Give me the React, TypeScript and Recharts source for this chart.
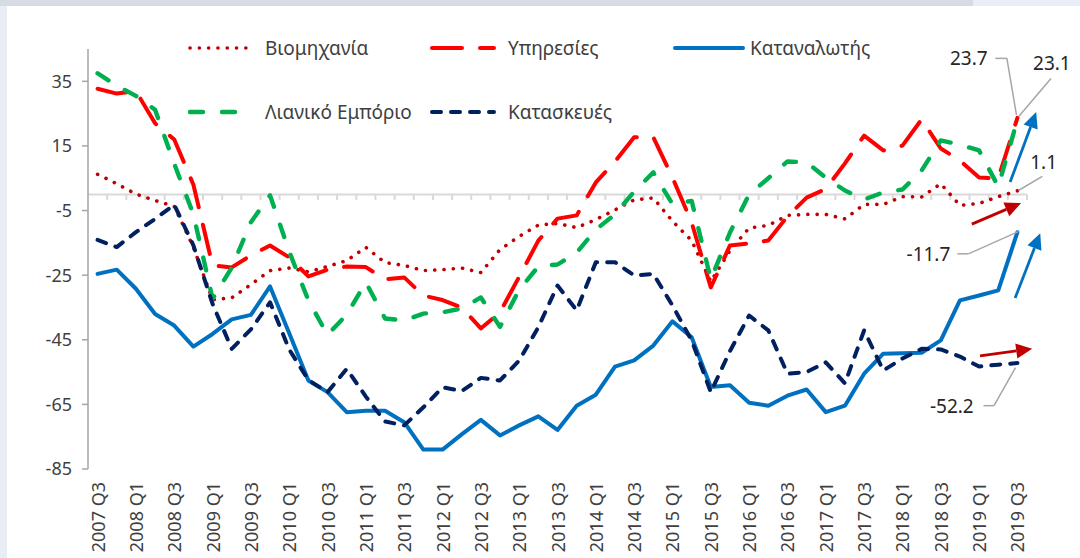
import { Legend, Line, LineChart, ReferenceDot, ReferenceLine, XAxis, YAxis } from 'recharts';

const quarters = [
  '2007 Q3', '2007 Q4', '2008 Q1', '2008 Q2', '2008 Q3', '2008 Q4', '2009 Q1', '2009 Q2', '2009 Q3', '2009 Q4',
  '2010 Q1', '2010 Q2', '2010 Q3', '2010 Q4', '2011 Q1', '2011 Q2', '2011 Q3', '2011 Q4', '2012 Q1', '2012 Q2',
  '2012 Q3', '2012 Q4', '2013 Q1', '2013 Q2', '2013 Q3', '2013 Q4', '2014 Q1', '2014 Q2', '2014 Q3', '2014 Q4',
  '2015 Q1', '2015 Q2', '2015 Q3', '2015 Q4', '2016 Q1', '2016 Q2', '2016 Q3', '2016 Q4', '2017 Q1', '2017 Q2',
  '2017 Q3', '2017 Q4', '2018 Q1', '2018 Q2', '2018 Q3', '2018 Q4', '2019 Q1', '2019 Q2', '2019 Q3',
];

const industry = [
  6.2, 3.3, 0.1, -1.9, -3.7, -16.3, -32.6, -32, -27.9, -23.6,
  -22.8, -24, -22.3, -20.5, -16.4, -21.1, -22, -23.6, -23.3, -22.8,
  -24.2, -17.1, -13, -9.5, -9, -10.3, -7.8, -4.8, -1.7, -1.1,
  -8.3, -14.3, -27, -17.4, -10.4, -9.6, -6.5, -6.2, -6.2, -7.6,
  -3.1, -3.1, -0.7, -0.8, 3.3, -3.4, -2.8, -0.7, 1.1,
];

const services = [
  32.7, 31.2, 32, 22, 17, 3, -22, -22.6, -18.9, -15.8,
  -19.5, -25.4, -23.3, -22.3, -22.5, -26.3, -25.7, -31.3, -32.7, -35,
  -41.5, -36.5, -25.5, -14.3, -7.5, -6.5, 3.7, 10.2, 17.7, 17.7,
  5.2, -8.7, -28.8, -15.8, -15.2, -14.3, -6.8, -1, 1.7, 9.6,
  18.2, 13.6, 15.1, 23.2, 14.2, 10.5, 5.2, 5, 23.7,
];

const consumers = [
  -24.6, -23.3, -29.2, -37, -40.6, -47.1, -43.2, -38.7, -37.3, -28.5,
  -43, -57.6, -61.2, -67.4, -67, -67, -70.5, -79, -79, -74.3,
  -69.8, -74.6, -71.5, -68.7, -72.9, -65.4, -62, -53.3, -51.4, -46.8,
  -39.3, -44.2, -59.6, -59.1, -64.5, -65.4, -62.3, -60.4, -67.4, -65.4,
  -55.5, -49.3, -49.2, -49, -45.2, -32.8, -31.3, -29.7, -11.7,
];

const retail = [
  37.5, 33.6, 30.5, 26.2, 9.5, -6.2, -32.3, -22.7, -8.6, -0.3,
  -17.7, -32.8, -43.5, -37.2, -27.2, -38.4, -39, -36.9, -36.5, -35.3,
  -31.9, -41, -29.5, -22.3, -21.7, -18, -10.9, -6.2, 0.9, 6.8,
  -3, -2, -26.3, -11.8, 0, 5, 10.2, 9.9, 5.2, 1.2,
  -1.6, 0.6, 1.5, 7.4, 16.7, 15.4, 13.6, 2.4, 23.1,
];

const construction = [
  -14.1, -16.3, -11.7, -7.6, -3.2, -15.8, -33.9, -47.8, -41.8, -33.4,
  -48, -57.5, -61.2, -54, -62.6, -70.3, -71.5, -65.9, -59.7, -60.9,
  -56.8, -57.6, -51.4, -41.1, -28.2, -35.9, -21, -21, -25.1, -24.6,
  -34.4, -45.2, -61.2, -48.5, -37.5, -42.1, -55.5, -55, -52, -58.5,
  -42.1, -54.5, -50.8, -47.8, -48, -50.2, -53.3, -52.7, -52.2,
];

const yTicks = [-85, -65, -45, -25, -5, 15, 35];

const data = quarters.map((q, i) => ({
  i,
  q,
  industry: industry[i],
  services: services[i],
  consumers: consumers[i],
  retail: retail[i],
  construction: construction[i],
}));

const xTicks = quarters.map((_, i) => i).filter((i) => i % 2 === 0);
const boundaries = quarters.map((_, i) => i + 0.5);

const FONT = '"Noto Sans", sans-serif';
const TEXT = '#404040';

const series = [
  { key: 'industry', name: 'Βιομηχανία', color: '#C00000', width: 3.6, dash: '0.1 9.2', lx: 188, ly: 48 },
  { key: 'services', name: 'Υπηρεσίες', color: '#FF0000', width: 4, dash: '30 18', lx: 430, ly: 48 },
  { key: 'consumers', name: 'Καταναλωτής', color: '#0070C0', width: 4, dash: undefined, lx: 673, ly: 48 },
  { key: 'retail', name: 'Λιανικό Εμπόριο', color: '#00B050', width: 4.4, dash: '13 19', lx: 188, ly: 112 },
  { key: 'construction', name: 'Κατασκευές', color: '#002060', width: 4, dash: '9 10', lx: 430, ly: 112 },
];

// leader lines of the value labels, in data units
const leaders = [
  [{ x: 46.85, y: 42.1 }, { x: 47.45, y: 42.1 }, { x: 47.95, y: 24.6 }],
  [{ x: 49.75, y: 35.9 }, { x: 48.08, y: 24.2 }],
  [{ x: 49.3, y: 5.6 }, { x: 48.05, y: 1.2 }],
  [{ x: 44.87, y: -18.4 }, { x: 45.44, y: -18.4 }, { x: 48.05, y: -11.5 }],
  [{ x: 46.23, y: -65.4 }, { x: 46.78, y: -65.4 }, { x: 47.9, y: -53.6 }],
];

const valueLabels = [
  { text: '23.7', x: 46.45, y: 42.3, anchor: 'end' },
  { text: '23.1', x: 49.8, y: 40.8, anchor: 'middle' },
  { text: '1.1', x: 49.37, y: 9.9, anchor: 'middle' },
  { text: '-11.7', x: 44.5, y: -18.4, anchor: 'end' },
  { text: '-52.2', x: 45.72, y: -65.5, anchor: 'end' },
];

const arrows = [
  { from: { x: 47.62, y: 3.8 }, to: { x: 48.98, y: 25.5 }, color: '#0070C0' },
  { from: { x: 47.88, y: -32.1 }, to: { x: 49.19, y: -12 }, color: '#0070C0' },
  { from: { x: 45.62, y: -9.2 }, to: { x: 48.19, y: -2.7 }, color: '#C00000' },
  { from: { x: 46.05, y: -50 }, to: { x: 48.77, y: -47.8 }, color: '#C00000' },
];

const arrowShape = (color: string) => (props: any) => {
  const { x1, y1, x2, y2 } = props;
  const dx = x2 - x1;
  const dy = y2 - y1;
  const len = Math.sqrt(dx * dx + dy * dy) || 1;
  const ux = dx / len;
  const uy = dy / len;
  const bx = x2 - ux * 16;
  const by = y2 - uy * 16;
  const px = -uy * 7.5;
  const py = ux * 7.5;
  return (
    <g>
      <line x1={x1} y1={y1} x2={bx} y2={by} stroke={color} strokeWidth={2.8} />
      <polygon points={`${x2},${y2} ${bx + px},${by + py} ${bx - px},${by - py}`} fill={color} />
    </g>
  );
};

const XTick = ({ x, y, payload }: any) => (
  <text
    transform={`translate(${x},${y}) rotate(-90)`}
    textAnchor="end"
    dominantBaseline="central"
    fill={TEXT}
    fontSize={18}
    fontFamily={FONT}
  >
    {quarters[payload.value]}
  </text>
);

const LegendBox = () => (
  <div style={{ position: 'relative', width: 1080, height: 0, fontFamily: FONT, color: TEXT }}>
    {series.map((s) => (
      <div key={s.key} style={{ position: 'absolute', left: s.lx, top: s.ly - 15, height: 30, display: 'flex', alignItems: 'center' }}>
        <svg width={72} height={30} style={{ display: 'block' }}>
          <line
            x1={2}
            y1={15}
            x2={s.key === 'consumers' ? 70 : 64}
            y2={15}
            stroke={s.color}
            strokeWidth={s.width}
            strokeDasharray={s.dash}
            strokeLinecap="round"
          />
        </svg>
        <span style={{ fontSize: 19, marginLeft: s.key === 'consumers' ? 5 : s.lx === 188 ? 5 : 6, whiteSpace: 'nowrap' }}>
          {s.name}
        </span>
      </div>
    ))}
  </div>
);

const App = () => {
  return (
    <div style={{ position: 'absolute', left: 0, top: 0, width: 1080, height: 558, background: '#E9EDF5', overflow: 'hidden' }}>
      <div style={{ position: 'absolute', left: 0, top: 0, width: 973, height: 6, background: '#D6DCE4' }} />
      <div style={{ position: 'absolute', left: 7, top: 6, width: 1073, height: 552, background: '#FFFFFF' }} />
      <div style={{ position: 'absolute', left: 0, top: 0 }}>
        <LineChart width={1080} height={558} data={data} margin={{ top: 49, right: 53, bottom: 0, left: 0 }}>
          <XAxis
            dataKey="i"
            type="number"
            domain={[-0.5, 48.5]}
            ticks={xTicks}
            interval={0}
            axisLine={false}
            tickLine={false}
            tickSize={0}
            tickMargin={13}
            height={89}
            tick={<XTick />}
          />
          <YAxis
            domain={[-85, 45]}
            ticks={yTicks}
            width={88}
            tickSize={6}
            tickMargin={10}
            axisLine={{ stroke: '#A6A6A6', strokeWidth: 1.5 }}
            tickLine={{ stroke: '#A6A6A6', strokeWidth: 1.5 }}
            tick={{ fill: TEXT, fontSize: 18, fontFamily: FONT }}
          />
          <ReferenceLine y={0} stroke="#D9D9D9" strokeWidth={2} />
          {boundaries.map((b) => (
            <ReferenceLine
              key={`t${b}`}
              segment={[{ x: b, y: 0 }, { x: b, y: -1.7 }]}
              stroke="#D9D9D9"
              strokeWidth={2}
              ifOverflow="visible"
            />
          ))}
          <Legend
            verticalAlign="top"
            wrapperStyle={{ top: 0, left: 0, width: 1080, height: 0 }}
            content={() => <LegendBox />}
          />
          {series.map((s) => (
            <Line
              key={s.key}
              type="linear"
              dataKey={s.key}
              name={s.name}
              stroke={s.color}
              strokeWidth={s.width}
              strokeDasharray={s.dash}
              strokeLinecap="round"
              strokeLinejoin="round"
              dot={false}
              activeDot={false}
              isAnimationActive={false}
            />
          ))}
          {leaders.flatMap((pts, k) =>
            pts.slice(1).map((p, j) => (
              <ReferenceLine
                key={`l${k}-${j}`}
                segment={[pts[j], p]}
                stroke="#A6A6A6"
                strokeWidth={1.5}
                ifOverflow="visible"
              />
            ))
          )}
          {arrows.map((a, k) => (
            <ReferenceLine key={`a${k}`} segment={[a.from, a.to]} ifOverflow="visible" shape={arrowShape(a.color)} />
          ))}
          {valueLabels.map((v) => (
            <ReferenceDot
              key={v.text}
              x={v.x}
              y={v.y}
              r={0}
              ifOverflow="visible"
              shape={(p: any) => (
                <text
                  x={p.cx}
                  y={p.cy}
                  textAnchor={v.anchor}
                  dominantBaseline="central"
                  fill="#262626"
                  fontSize={19}
                  fontFamily={FONT}
                >
                  {v.text}
                </text>
              )}
            />
          ))}
        </LineChart>
      </div>
    </div>
  );
};

export default App;
